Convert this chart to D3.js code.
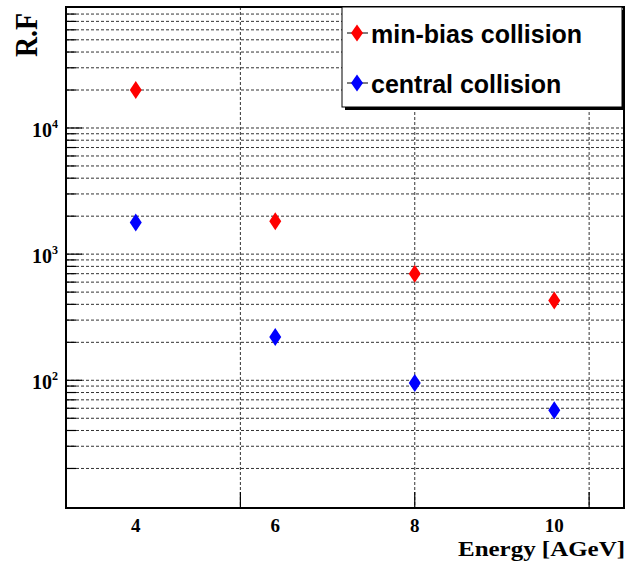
<!DOCTYPE html>
<html>
<head>
<meta charset="utf-8">
<script src="https://cdn.jsdelivr.net/npm/d3@7"></script>
<style>
  html, body { margin: 0; padding: 0; background: #fff; }
  svg { display: block; }
</style>
</head>
<body>
<svg id="chart" width="628" height="563"></svg>
<script>
// Reduction factor vs. beam energy for two collision classes
const energies = [4, 6, 8, 10];
const minBias = [20000, 1820, 700, 430];
const central = [1780, 220, 95, 58];

const xTickLabels = [4, 6, 8, 10];
const xGridLines = [5.5, 8, 10.5];
const yMajorTicks = [100, 1000, 10000];

const seriesNames = ["min-bias collision", "central collision"];
const seriesColors = ["#ff0000", "#0000ff"];

const W = 628, H = 563;
const frame = { left: 66, right: 624, top: 7, bottom: 508 };

const svg = d3.select("#chart");

const x = d3.scaleLinear().domain([3, 11]).range([frame.left, frame.right]);
const y = d3.scaleLog().domain([9.72, 91000]).range([frame.bottom, frame.top]);

const serif = "'Liberation Serif', 'Times New Roman', serif";
const sans = "'Liberation Sans', Arial, sans-serif";

// horizontal grid: every 1..9 x 10^k step inside the frame
const yGrid = y.ticks().filter(v => y(v) > frame.top + 2 && y(v) < frame.bottom - 2);

const grid = svg.append("g");
grid.selectAll("line.hg").data(yGrid).join("line")
  .attr("class", "hg")
  .attr("x1", frame.left).attr("x2", frame.right)
  .attr("y1", d => y(d)).attr("y2", d => y(d))
  .attr("stroke", "#333").attr("stroke-width", 1)
  .attr("stroke-dasharray", "3,2");

grid.selectAll("line.vg").data(xGridLines).join("line")
  .attr("class", "vg")
  .attr("x1", d => x(d)).attr("x2", d => x(d))
  .attr("y1", frame.top).attr("y2", frame.bottom)
  .attr("stroke", "#333").attr("stroke-width", 1)
  .attr("stroke-dasharray", "3,2");

// solid tick marks on the left axis (long for decades, short otherwise)
const isMajor = v => yMajorTicks.some(m => Math.abs(m - v) / m < 1e-6);
svg.append("g").selectAll("line").data(yGrid).join("line")
  .attr("x1", frame.left)
  .attr("x2", d => frame.left + (isMajor(d) ? 16 : 10))
  .attr("y1", d => y(d)).attr("y2", d => y(d))
  .attr("stroke", "#000").attr("stroke-width", 1.2);

// solid tick marks on the bottom axis
svg.append("g").selectAll("line").data(xGridLines).join("line")
  .attr("x1", d => x(d)).attr("x2", d => x(d))
  .attr("y1", frame.bottom).attr("y2", frame.bottom - 16)
  .attr("stroke", "#000").attr("stroke-width", 1.2);

// frame
svg.append("rect")
  .attr("x", frame.left).attr("y", frame.top)
  .attr("width", frame.right - frame.left).attr("height", frame.bottom - frame.top)
  .attr("fill", "none").attr("stroke", "#000").attr("stroke-width", 2);

// y tick labels: 10^n
svg.append("g").selectAll("text").data(yMajorTicks).join("text")
  .attr("x", 52).attr("y", d => y(d) + 9)
  .attr("text-anchor", "end")
  .attr("font-family", serif).attr("font-weight", "bold").attr("font-size", 20)
  .attr("fill", "#000")
  .text("10");
svg.append("g").selectAll("text").data(yMajorTicks).join("text")
  .attr("x", 52).attr("y", d => y(d))
  .attr("font-family", serif).attr("font-weight", "bold").attr("font-size", 12)
  .attr("fill", "#000")
  .text(d => Math.round(Math.log10(d)));

// x tick labels
svg.append("g").selectAll("text").data(xTickLabels).join("text")
  .attr("x", d => x(d)).attr("y", 532)
  .attr("text-anchor", "middle")
  .attr("font-family", serif).attr("font-weight", "bold").attr("font-size", 19)
  .attr("fill", "#000")
  .text(d => d);

// axis titles
svg.append("text")
  .attr("x", 625).attr("y", 556)
  .attr("text-anchor", "end")
  .attr("font-family", serif).attr("font-weight", "bold").attr("font-size", 21)
  .attr("textLength", 167).attr("lengthAdjust", "spacingAndGlyphs")
  .attr("fill", "#000")
  .text("Energy [AGeV]");

svg.append("text")
  .attr("transform", "translate(37,13) rotate(-90)")
  .attr("text-anchor", "end")
  .attr("font-family", serif).attr("font-weight", "bold").attr("font-size", 31)
  .attr("textLength", 44).attr("lengthAdjust", "spacingAndGlyphs")
  .attr("fill", "#000")
  .text("R.F");

// diamond marker path centred on the origin
const diamond = (w, h) => `M0,${-h / 2}L${w / 2},0L0,${h / 2}L${-w / 2},0Z`;

const series = [minBias, central];
series.forEach((vals, i) => {
  svg.append("g").selectAll("path").data(energies.map((e, j) => [e, vals[j]])).join("path")
    .attr("transform", d => `translate(${x(d[0])},${y(d[1])})`)
    .attr("d", diamond(12, 18))
    .attr("fill", seriesColors[i]);
});

// legend box with shadow
const lg = { x: 342, y: 7, w: 280, h: 100 };
svg.append("rect")
  .attr("x", lg.x + 3).attr("y", lg.y + 3).attr("width", lg.w).attr("height", lg.h)
  .attr("fill", "#000");
svg.append("rect")
  .attr("x", lg.x).attr("y", lg.y).attr("width", lg.w).attr("height", lg.h)
  .attr("fill", "#fff").attr("stroke", "#000").attr("stroke-width", 1);

const entryY = [33, 83];
seriesNames.forEach((name, i) => {
  const g = svg.append("g").attr("transform", `translate(357,${entryY[i]})`);
  g.append("line").attr("x1", -10).attr("x2", 11).attr("y1", 0).attr("y2", 0)
    .attr("stroke", "#000").attr("stroke-width", 1);
  g.append("path").attr("d", diamond(12, 17)).attr("fill", seriesColors[i]);
  g.append("text")
    .attr("x", 14).attr("y", 10)
    .attr("font-family", sans).attr("font-weight", "bold").attr("font-size", 25)
    .attr("fill", "#000")
    .text(name);
});
</script>
</body>
</html>
